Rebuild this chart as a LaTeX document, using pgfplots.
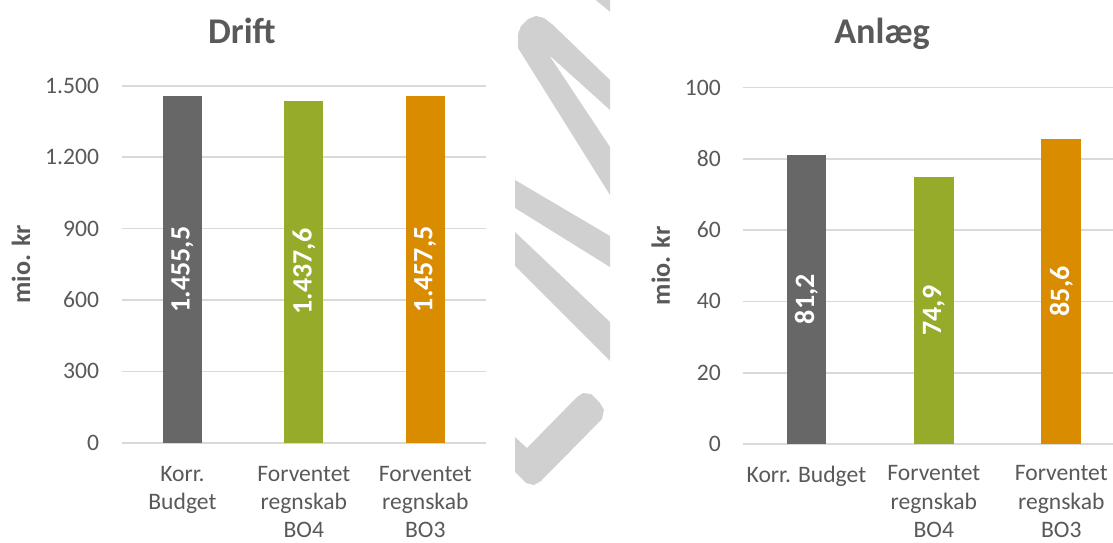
\documentclass[border=0pt]{standalone}
\usepackage{fontspec}
\setmainfont{Carlito}
\usepackage{pgfplots}
\pgfplotsset{compat=1.18}
\definecolor{barGray}{HTML}{676767}
\definecolor{barGreen}{HTML}{95AB29}
\definecolor{barOrange}{HTML}{D98C00}
\definecolor{txt}{HTML}{595959}
\definecolor{gridc}{HTML}{D9D9D9}
\definecolor{wm}{HTML}{D0D0D0}

\pgfplotsset{
  mybars/.style={
    scale only axis,
    ybar,
    xmin=-0.5, xmax=2.5, ymin=0,
    xtick={0,1,2},
    axis line style={draw=none},
    tick style={draw=none},
    major tick length=0pt,
    ymajorgrids,
    grid style={gridc, line width=0.8pt},
    enlarge x limits=false,
    point meta=explicit symbolic,
    nodes near coords,
    visualization depends on={rawy \as \rawy},
    xticklabel style={align=center, font=\fontsize{11.8}{14.1}\selectfont, text=txt},
    yticklabel style={font=\fontsize{11.8}{14.1}\selectfont, text=txt},
    every axis title/.style={anchor=base, font=\bfseries\fontsize{18.1}{22}\selectfont, text=txt},
    clip=false,
  },
}

\begin{document}
\begin{tikzpicture}
\path[use as bounding box] (0,0) rectangle (556.5pt,271pt);

% decorative background shape
\begin{scope}[shift={(0pt,271pt)}, x=0.5pt, y=-0.5pt]
  \fill[wm] (595.7,0) -- (610,0) -- (610,11.7) -- cycle;
  \fill[wm] (518,48) -- (518,34) -- (521,26) -- (528,19) -- (536,16) -- (544,18) -- (553,25)
            -- (610,80) -- (610,110) -- (549,55) -- (610,147) -- (610,195) -- cycle;
  \fill[wm] (515,180) -- (610,236) -- (610,267) -- (515,208) -- cycle;
  \fill[wm] (515,232) -- (610,322) -- (610,361) -- (515,266) -- cycle;
  \fill[wm] (515,437) -- (527,448) -- (577,397) -- (583,393) -- (591,394) -- (600,403)
            -- (604,410) -- (602,419) -- (541,481) -- (534,485) -- (526,483) -- (515,472) -- cycle;
\end{scope}

% ---------------- Drift ----------------
\begin{axis}[mybars,
  at={(60.85pt,49.65pt)}, anchor=south west,
  width=182.15pt, height=178.5pt,
  ymax=1500,
  ytick={0,300,600,900,1200,1500},
  yticklabels={0,300,600,900,{1.200},{1.500}},
  yticklabel style={xshift=-7.8pt},
  xticklabel style={yshift=-8.3pt},
  xticklabels={{Korr.\\Budget},{Forventet\\regnskab\\BO4},{Forventet\\regnskab\\BO3}},
  title={Drift},
  title style={at={(rel axis cs:0.330,1.1196)}},
  ylabel={mio. kr},
  every axis y label/.style={at={(rel axis cs:0,0.5)}, xshift=-50.35pt, rotate=90, anchor=center,
     font=\bfseries\fontsize{13.1}{15}\selectfont, text=txt},
  every node near coord/.style={anchor=center, yshift={-\rawy*0.0595pt}, rotate=90,
     text=white, font=\bfseries\fontsize{14}{16}\selectfont},
]
\addplot[fill=barGray, draw=none, bar width=19.5pt, bar shift=0pt] coordinates {(0,1455.5) [1.455,5]};
\addplot[fill=barGreen, draw=none, bar width=19.5pt, bar shift=0pt] coordinates {(1,1437.6) [1.437,6]};
\addplot[fill=barOrange, draw=none, bar width=19.5pt, bar shift=0pt] coordinates {(2,1457.5) [1.457,5]};
\end{axis}

% ---------------- Anlæg ----------------
\begin{axis}[mybars,
  at={(371.35pt,49pt)}, anchor=south west,
  width=191.15pt, height=178.25pt,
  ymax=100,
  ytick={0,20,40,60,80,100},
  yticklabels={0,20,40,60,80,100},
  yticklabel style={xshift=-7.4pt},
  xticklabel style={yshift=-7.3pt},
  xticklabels={{Korr. Budget},{Forventet\\regnskab\\BO4},{Forventet\\regnskab\\BO3}},
  title={Anlæg},
  title style={at={(rel axis cs:0.3644,1.124)}},
  ylabel={mio. kr},
  every axis y label/.style={at={(rel axis cs:0,0.5)}, xshift=-40.95pt, rotate=90, anchor=center,
     font=\bfseries\fontsize{13.1}{15}\selectfont, text=txt},
  every node near coord/.style={anchor=center, yshift={-\rawy*0.89125pt}, rotate=90,
     text=white, font=\bfseries\fontsize{14}{16}\selectfont},
]
\addplot[fill=barGray, draw=none, bar width=19.85pt, bar shift=0pt] coordinates {(0,81.2) [81,2]};
\addplot[fill=barGreen, draw=none, bar width=19.85pt, bar shift=0pt] coordinates {(1,74.9) [74,9]};
\addplot[fill=barOrange, draw=none, bar width=19.85pt, bar shift=0pt] coordinates {(2,85.6) [85,6]};
\end{axis}
\end{tikzpicture}
\end{document}
